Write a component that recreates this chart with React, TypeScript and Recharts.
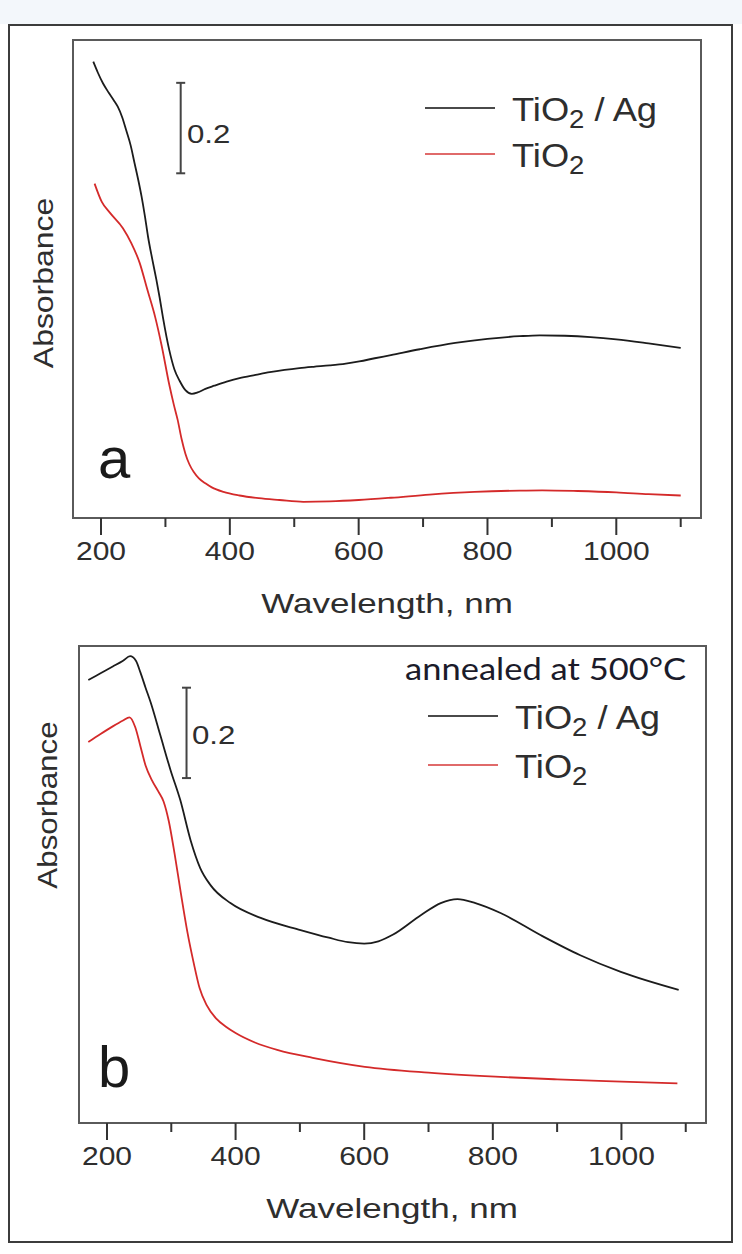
import React from 'react';
import { LineChart, Line, XAxis, YAxis, ReferenceArea, ReferenceLine } from 'recharts';

// ---------- Panel a (as deposited) ----------
const aWlAg = [188, 195, 203, 212, 220, 226, 233, 239, 246, 252, 258, 263, 268, 273, 280, 286, 291, 296, 306, 314, 322, 331, 341, 350, 362, 376, 395, 415, 440, 462, 485, 508, 530, 555, 580, 601, 625, 650, 695, 750, 800, 850, 881, 920, 960, 1000, 1050, 1100];
const aAbsAg = [1.014, 0.99, 0.966, 0.945, 0.928, 0.914, 0.89, 0.862, 0.828, 0.789, 0.75, 0.714, 0.672, 0.625, 0.572, 0.529, 0.49, 0.447, 0.373, 0.33, 0.305, 0.284, 0.276, 0.279, 0.287, 0.294, 0.303, 0.311, 0.318, 0.324, 0.329, 0.333, 0.336, 0.339, 0.343, 0.348, 0.355, 0.362, 0.375, 0.389, 0.398, 0.404, 0.406, 0.405, 0.402, 0.397, 0.388, 0.378];
const aWlTi = [190, 201, 214, 234, 247, 260, 272, 284, 294, 306, 313, 319, 325, 331, 337, 344, 352, 362, 372, 390, 415, 445, 477, 514, 555, 600, 650, 710, 780, 850, 885, 940, 1000, 1050, 1100];
const aAbsTi = [0.743, 0.703, 0.678, 0.644, 0.611, 0.567, 0.507, 0.447, 0.384, 0.296, 0.252, 0.218, 0.176, 0.143, 0.12, 0.102, 0.088, 0.077, 0.068, 0.058, 0.05, 0.044, 0.04, 0.036, 0.037, 0.04, 0.045, 0.052, 0.058, 0.061, 0.0615, 0.06, 0.057, 0.053, 0.05];

// ---------- Panel b (annealed at 500 C) ----------
const bWlAg = [171, 190, 209, 225, 236, 245, 252, 260, 268, 283, 299, 314, 330, 345, 361, 392, 439, 501, 545, 575, 600, 622, 645, 688, 719, 745, 773, 812, 874, 936, 999, 1089];
const bAbsAg = [0.985, 1.0, 1.015, 1.028, 1.038, 1.028, 1.002, 0.968, 0.935, 0.862, 0.784, 0.718, 0.629, 0.567, 0.529, 0.489, 0.456, 0.429, 0.412, 0.402, 0.399, 0.404, 0.419, 0.462, 0.489, 0.498, 0.489, 0.467, 0.418, 0.373, 0.336, 0.296];
const bWlTi = [171, 190, 209, 225, 235, 244, 252, 260, 270, 280, 288, 296, 305, 315, 325, 335, 344, 355, 370, 385, 400, 430, 466, 520, 601, 700, 804, 900, 1000, 1087];
const bAbsTi = [0.847, 0.865, 0.882, 0.895, 0.902, 0.88, 0.838, 0.795, 0.762, 0.737, 0.715, 0.672, 0.6, 0.51, 0.425, 0.355, 0.3, 0.262, 0.232, 0.214, 0.2, 0.179, 0.162, 0.145, 0.125, 0.112, 0.103, 0.097, 0.092, 0.088];

const xTicks = [200, 300, 400, 500, 600, 700, 800, 900, 1000, 1100];
const xLabels = [200, 400, 600, 800, 1000];
const xDomain = [156.5, 1131.5];
const scaleBarWl = 323.7;
const scaleBarA = [0.766, 0.967];
const scaleBarB = [0.767, 0.968];

const zip = (xs: number[], ys: number[]) => xs.map((x, i) => ({ x, y: ys[i] }));

const FONT = '"Liberation Sans", Arial, Helvetica, sans-serif';

const SText = ({ x, y, size, sx = 1, anchor = 'start', rotate = 0, fill = '#2e2e2e', family = FONT, children }: any) => (
  <text
    transform={`translate(${x},${y}) rotate(${rotate}) scale(${sx},1)`}
    fontSize={size}
    fontFamily={family}
    textAnchor={anchor}
    fill={fill}
  >
    {children}
  </text>
);

const AxisTick = (props: any) => {
  const { x, y, payload } = props;
  const major = xLabels.includes(payload.value);
  return (
    <g>
      <line x1={x} x2={x} y1={y} y2={y + (major ? 17 : 9)} stroke="#333" strokeWidth={2} />
      {major && (
        <SText x={x} y={y + 42} size={25} sx={1.2} anchor="middle">
          {payload.value}
        </SText>
      )}
    </g>
  );
};

const Panel = ({ ag, ti, yMax, bar, margin, top, height }: any) => (
  <div style={{ position: 'absolute', left: 0, top, width: 742, height }}>
    <LineChart width={742} height={height} margin={margin}>
      <XAxis
        type="number"
        dataKey="x"
        domain={xDomain}
        ticks={xTicks}
        interval={0}
        tick={<AxisTick />}
        tickSize={0}
        tickMargin={0}
        tickLine={false}
        axisLine={false}
        height={80}
        allowDataOverflow
      />
      <YAxis type="number" domain={[0, yMax]} hide allowDataOverflow />
      <ReferenceArea x1={xDomain[0]} x2={xDomain[1]} y1={0} y2={yMax} fill="none" stroke="#5a5a5a" strokeWidth={2} ifOverflow="visible" />
      <ReferenceLine segment={[{ x: scaleBarWl, y: bar[0] }, { x: scaleBarWl, y: bar[1] }]} stroke="#444" strokeWidth={2} />
      <ReferenceLine segment={[{ x: scaleBarWl - 7, y: bar[0] }, { x: scaleBarWl + 7, y: bar[0] }]} stroke="#444" strokeWidth={2} />
      <ReferenceLine segment={[{ x: scaleBarWl - 7, y: bar[1] }, { x: scaleBarWl + 7, y: bar[1] }]} stroke="#444" strokeWidth={2} />
      <Line data={ag} dataKey="y" type="monotone" stroke="#1c1c1c" strokeWidth={1.8} dot={false} isAnimationActive={false} />
      <Line data={ti} dataKey="y" type="monotone" stroke="#d42a2a" strokeWidth={1.8} dot={false} isAnimationActive={false} />
    </LineChart>
  </div>
);

const LegendBlock = ({ x, y1, y2 }: any) => (
  <g>
    <line x1={x} x2={x + 70} y1={y1} y2={y1} stroke="#4a4a4a" strokeWidth={2} />
    <SText x={x + 87} y={y1 + 13} size={33} sx={1.1}>
      TiO<tspan fontSize={25} dy={7}>2</tspan>
      <tspan dy={-7}> / Ag</tspan>
    </SText>
    <line x1={x} x2={x + 70} y1={y2} y2={y2} stroke="#e06a6a" strokeWidth={2} />
    <SText x={x + 87} y={y2 + 13} size={33} sx={1.1}>
      TiO<tspan fontSize={25} dy={7}>2</tspan>
    </SText>
  </g>
);

export default function App() {
  return (
    <div style={{ position: 'absolute', left: 0, top: 0, width: 742, height: 1254, background: '#ffffff', overflow: 'hidden' }}>
      <div style={{ position: 'absolute', left: 0, top: 0, width: 742, height: 24, background: '#f3f7fb' }} />
      <div style={{ position: 'absolute', left: 8, top: 24, width: 725, height: 1219, border: '2px solid #3c3c3c', boxSizing: 'border-box', background: '#fff' }} />
      <Panel
        ag={zip(aWlAg, aAbsAg)}
        ti={zip(aWlTi, aAbsTi)}
        yMax={1.0622}
        bar={scaleBarA}
        top={0}
        height={640}
        margin={{ top: 40, left: 73, right: 41, bottom: 42 }}
      />
      <Panel
        ag={zip(bWlAg, bAbsAg)}
        ti={zip(bWlTi, bAbsTi)}
        yMax={1.0607}
        bar={scaleBarB}
        top={600}
        height={654}
        margin={{ top: 46, left: 79, right: 36, bottom: 51 }}
      />
      <svg width={742} height={1254} style={{ position: 'absolute', left: 0, top: 0, pointerEvents: 'none' }}>
        {/* panel a annotations */}
        <SText x={387} y={613} size={28} sx={1.25} anchor="middle">Wavelength, nm</SText>
        <SText x={53} y={283} size={28} sx={1.14} anchor="middle" rotate={-90}>Absorbance</SText>
        <SText x={98} y={478} size={58} fill="#1a1a1a">a</SText>
        <SText x={187} y={143} size={25} sx={1.25}>0.2</SText>
        <LegendBlock x={425} y1={108} y2={154} />
        {/* panel b annotations */}
        <SText x={392} y={1218} size={28} sx={1.25} anchor="middle">Wavelength, nm</SText>
        <SText x={57} y={805} size={28} sx={1.12} anchor="middle" rotate={-90}>Absorbance</SText>
        <SText x={98} y={1087} size={58} fill="#1a1a1a">b</SText>
        <SText x={192} y={744} size={25} sx={1.25}>0.2</SText>
        <SText x={686} y={680} size={30} sx={1.15} anchor="end" family="Lato, 'Open Sans', sans-serif" fill="#1b1b2a">annealed at 500°C</SText>
        <LegendBlock x={428} y1={716} y2={765} />
      </svg>
    </div>
  );
}
